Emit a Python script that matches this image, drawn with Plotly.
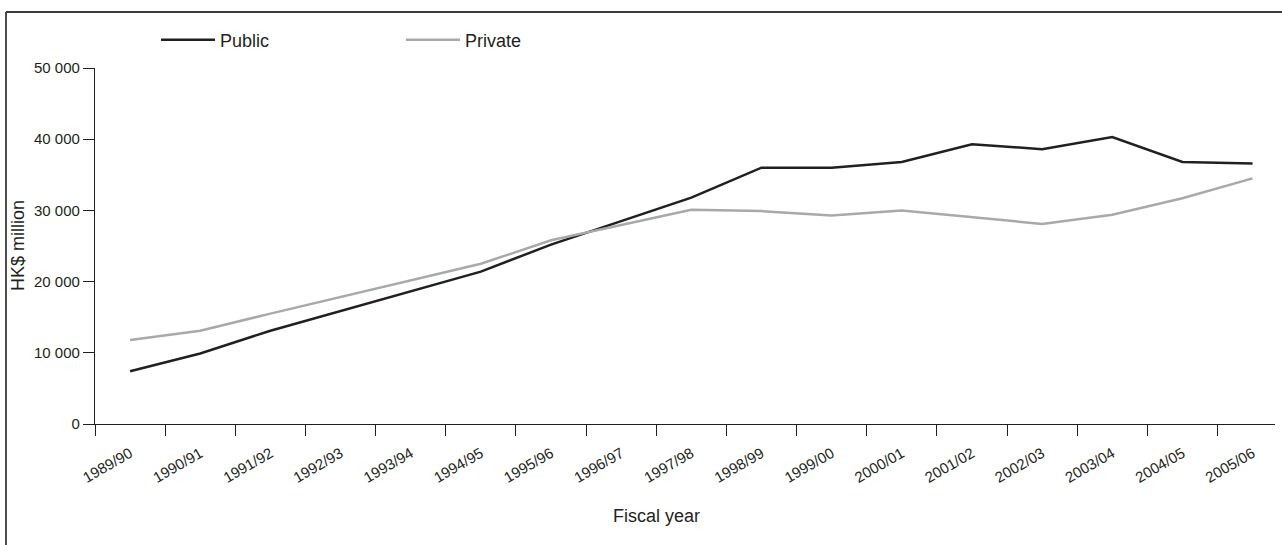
import plotly.graph_objects as go

years = ["1989/90", "1990/91", "1991/92", "1992/93", "1993/94", "1994/95",
         "1995/96", "1996/97", "1997/98", "1998/99", "1999/00", "2000/01",
         "2001/02", "2002/03", "2003/04", "2004/05", "2005/06"]
public = [7400, 9900, 13100, 15900, 18700, 21400, 25200, 28500, 31800,
          36000, 36000, 36800, 39300, 38600, 40300, 36800, 36600]
private = [11800, 13100, 15500, 17800, 20100, 22500, 25800, 27900, 30100,
           29900, 29300, 30000, 29000, 28100, 29400, 31700, 34500]

W, H = 1282, 545
ML, MR, MT, MB = 95, 7, 68, 121
PW, PH = W - ML - MR, H - MT - MB

def px(x):
    return (x - ML) / PW

def py(y):
    return (H - MB - y) / PH

AX = "#231f20"
FONT = "Liberation Sans, Arial, sans-serif"

fig = go.Figure()
fig.add_trace(go.Scatter(x=years, y=public, mode="lines", name="Public",
                         line=dict(color="#231f20", width=2.5)))
fig.add_trace(go.Scatter(x=years, y=private, mode="lines", name="Private",
                         line=dict(color="#a7a9ac", width=2.5)))

fig.update_layout(
    width=W, height=H,
    margin=dict(l=ML, r=MR, t=MT, b=MB, pad=0),
    paper_bgcolor="white", plot_bgcolor="white",
    font=dict(family=FONT, size=15, color=AX),
    separators=". ",
    showlegend=True,
    legend=dict(orientation="h", x=px(156), y=py(40), xanchor="left", yanchor="middle",
                entrywidth=176, entrywidthmode="pixels", itemwidth=54,
                font=dict(size=18, color=AX), bgcolor="rgba(0,0,0,0)"),
    xaxis=dict(type="category", range=[-0.5, 16.32], tickson="boundaries",
               showline=True, linecolor=AX, linewidth=1.2, ticks="outside",
               ticklen=11, tickcolor=AX, tickwidth=1.2, tickangle=-30,
               ticklabelstandoff=14,
               showgrid=False, zeroline=False, tickfont=dict(size=15, color=AX)),
    yaxis=dict(range=[0, 50000], tickvals=[0, 10000, 20000, 30000, 40000, 50000],
               tickformat=",d", showline=True, linecolor=AX, linewidth=1.2,
               ticks="outside", ticklen=11, tickcolor=AX, tickwidth=1.2,
               showgrid=False, zeroline=False, tickfont=dict(size=15, color=AX)),
    shapes=[
        dict(type="line", xref="paper", yref="paper", x0=px(6), x1=px(1282),
             y0=py(12), y1=py(12), line=dict(color="#3a3a3a", width=1.8)),
        dict(type="line", xref="paper", yref="paper", x0=px(6), x1=px(6),
             y0=py(12), y1=py(545), line=dict(color="#3a3a3a", width=1.8)),
    ],
    annotations=[
        dict(text="Fiscal year", xref="paper", yref="paper", x=px(656), y=py(516),
             xanchor="center", yanchor="middle", showarrow=False,
             font=dict(size=18, color=AX)),
        dict(text="HK$ million", xref="paper", yref="paper", x=px(18), y=py(246),
             xanchor="center", yanchor="middle", showarrow=False, textangle=-90,
             font=dict(size=18, color=AX)),
    ],
)

fig.write_html(
    "out.html",
    config={"displayModeBar": False},
    post_script="document.body.style.margin='0';document.body.style.overflow='hidden';",
)
